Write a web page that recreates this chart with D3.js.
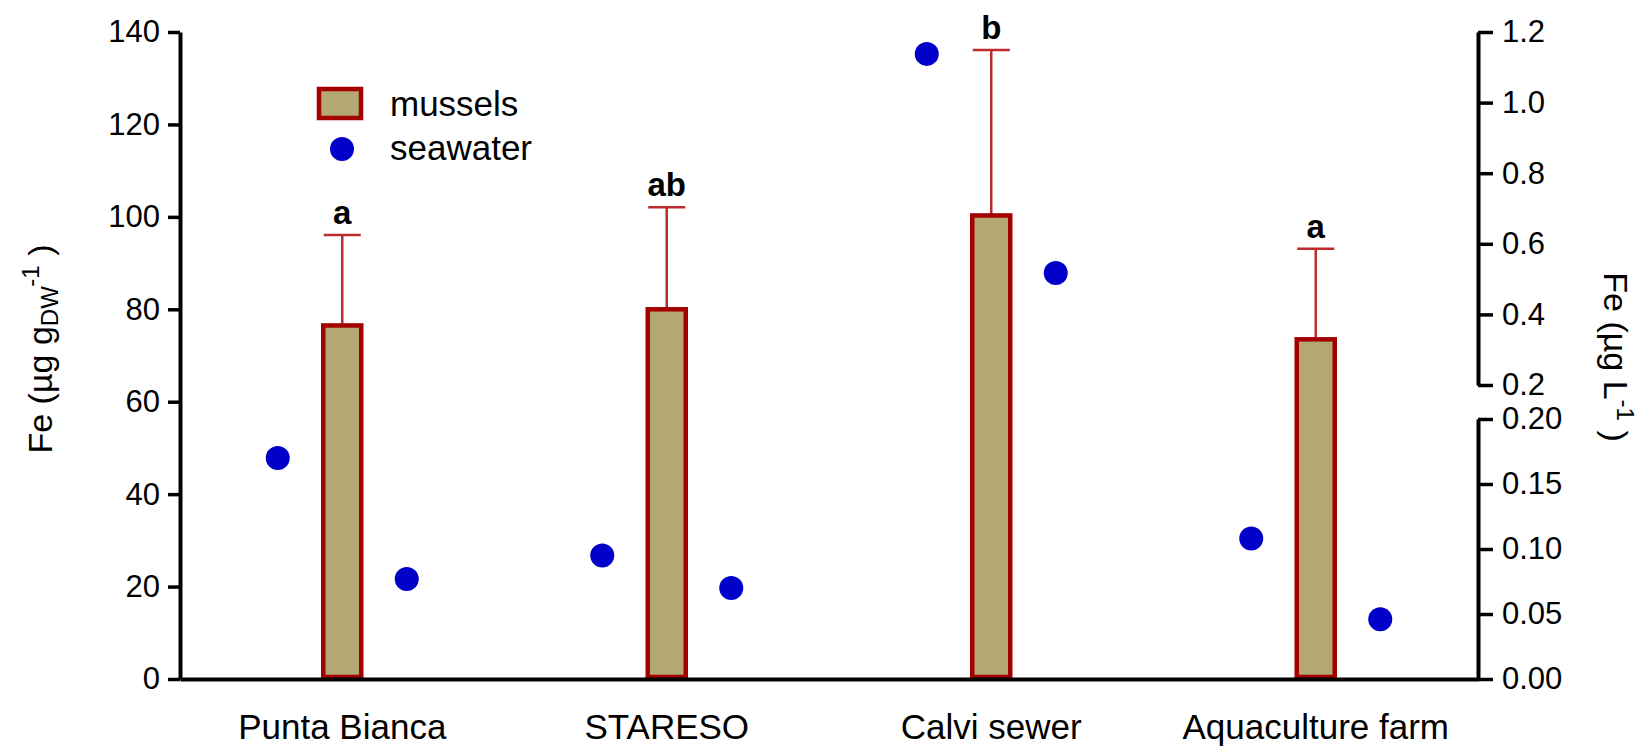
<!DOCTYPE html>
<html>
<head>
<meta charset="utf-8">
<script src="https://cdn.jsdelivr.net/npm/d3@7"></script>
<style>
  body { margin: 0; background: #fff; }
  svg { display: block; font-family: "Liberation Sans", Arial, sans-serif; }
</style>
</head>
<body>
<div id="chart"></div>
<script>
// data
var sites = ["Punta Bianca", "STARESO", "Calvi sewer", "Aquaculture farm"];
var mussels = [76.5, 80, 100.3, 73.5];        // µg gDW-1
var musselsSD = [19.6, 22.1, 35.8, 19.6];
var letters = ["a", "ab", "b", "a"];
var seawater1 = [0.170, 0.095, 1.138, 0.108]; // µg L-1, left dot
var seawater2 = [0.077, 0.070, 0.517, 0.046]; // µg L-1, right dot
var leftTicks = [0, 20, 40, 60, 80, 100, 120, 140];
var rightTicksLow = [0, 0.05, 0.10, 0.15, 0.20];
var rightTicksHigh = [0.2, 0.4, 0.6, 0.8, 1.0, 1.2];

var width = 1646, height = 749;
var plotL = 180, plotR = 1478, plotB = 679, plotT = 32;

var svg = d3.select("#chart").append("svg")
    .attr("width", width)
    .attr("height", height);

var x = d3.scaleBand().domain(sites).range([plotL, plotR]);
var xSub = d3.scalePoint().domain(["sw1", "mussels", "sw2"]).range([-64.5, 64.5]);
var y = d3.scaleLinear().domain([0, 140]).range([plotB, plotT]);
// broken right axis
var yLow = d3.scaleLinear().domain([0, 0.2]).range([plotB, 419]);
var yHigh = d3.scaleLinear().domain([0.2, 1.2]).range([385, plotT]);
function ySea(v) { return v <= 0.2 ? yLow(v) : yHigh(v); }

function cx(d) { return x(d) + x.bandwidth() / 2; }

var barW = 38;

// error bars
var err = svg.append("g").attr("stroke", "#bb2b2b").attr("stroke-width", 2.5);
sites.forEach(function(s, i) {
  var c = cx(s) + xSub("mussels");
  err.append("line")
      .attr("x1", c).attr("x2", c)
      .attr("y1", y(mussels[i])).attr("y2", y(mussels[i] + musselsSD[i]));
  err.append("line")
      .attr("x1", c - 18.5).attr("x2", c + 18.5)
      .attr("y1", y(mussels[i] + musselsSD[i])).attr("y2", y(mussels[i] + musselsSD[i]));
});

// bars
svg.selectAll(".bar")
    .data(sites)
  .enter().append("rect")
    .attr("class", "bar")
    .attr("x", function(d) { return cx(d) + xSub("mussels") - barW / 2; })
    .attr("y", function(d, i) { return y(mussels[i]); })
    .attr("width", barW)
    .attr("height", function(d, i) { return y(0) - y(mussels[i]) - 2; })
    .attr("fill", "#b3a774")
    .attr("stroke", "#a30000")
    .attr("stroke-width", 4.5);

// significance letters
svg.selectAll(".letter")
    .data(sites)
  .enter().append("text")
    .attr("class", "letter")
    .attr("x", function(d) { return cx(d) + xSub("mussels"); })
    .attr("y", function(d, i) { return y(mussels[i] + musselsSD[i]) - 11; })
    .attr("text-anchor", "middle")
    .style("font-size", "33px")
    .style("font-weight", "bold")
    .text(function(d, i) { return letters[i]; });

// seawater dots
[["sw1", seawater1], ["sw2", seawater2]].forEach(function(p) {
  svg.selectAll(".dot-" + p[0])
      .data(sites)
    .enter().append("circle")
      .attr("cx", function(d) { return cx(d) + xSub(p[0]); })
      .attr("cy", function(d, i) { return ySea(p[1][i]); })
      .attr("r", 12)
      .attr("fill", "#0000c8");
});

// axes
function styleAxis(g, size) {
  g.select(".domain").attr("stroke-width", 4);
  g.selectAll(".tick line").attr("stroke-width", 3.5);
  g.selectAll(".tick text").style("font-size", size).attr("fill", "#000");
}

svg.append("g")
    .attr("transform", "translate(" + plotL + ",0)")
    .call(d3.axisLeft(y).tickValues(leftTicks).tickSize(12).tickSizeOuter(0).tickPadding(8))
    .call(styleAxis, "31px");

svg.append("g")
    .attr("transform", "translate(0," + plotB + ")")
    .call(d3.axisBottom(x).tickSize(0).tickSizeOuter(0).tickPadding(35))
    .call(styleAxis, "35px");

svg.append("g")
    .attr("transform", "translate(" + plotR + ",0)")
    .call(d3.axisRight(yLow).tickValues(rightTicksLow).tickFormat(d3.format(".2f"))
      .tickSize(15).tickSizeOuter(0).tickPadding(9))
    .call(styleAxis, "31px");

svg.append("g")
    .attr("transform", "translate(" + plotR + ",0)")
    .call(d3.axisRight(yHigh).tickValues(rightTicksHigh).tickFormat(d3.format(".1f"))
      .tickSize(15).tickSizeOuter(0).tickPadding(9))
    .call(styleAxis, "31px");

// axis titles
var lt = svg.append("text")
    .attr("transform", "translate(52,349)rotate(-90)")
    .attr("text-anchor", "middle")
    .style("font-size", "34px");
lt.append("tspan").text("Fe (µg g");
lt.append("tspan").attr("dy", 6).style("font-size", "24px").text("DW");
lt.append("tspan").attr("dy", -19).style("font-size", "24px").text("-1");
lt.append("tspan").attr("dy", 13).text(" )");

var rt = svg.append("text")
    .attr("transform", "translate(1604,357)rotate(90)")
    .attr("text-anchor", "middle")
    .style("font-size", "34px");
rt.append("tspan").text("Fe (µg L");
rt.append("tspan").attr("dy", -13).style("font-size", "24px").text("-1");
rt.append("tspan").attr("dy", 13).text(" )");

// legend
var legend = svg.append("g");
legend.append("rect")
    .attr("x", 319).attr("y", 89)
    .attr("width", 42).attr("height", 29)
    .attr("fill", "#b3a774")
    .attr("stroke", "#a30000")
    .attr("stroke-width", 4.5);
legend.append("circle")
    .attr("cx", 342).attr("cy", 149).attr("r", 12)
    .attr("fill", "#0000c8");
legend.append("text").attr("x", 390).attr("y", 116).style("font-size", "35px").text("mussels");
legend.append("text").attr("x", 390).attr("y", 160).style("font-size", "35px").text("seawater");
</script>
</body>
</html>
